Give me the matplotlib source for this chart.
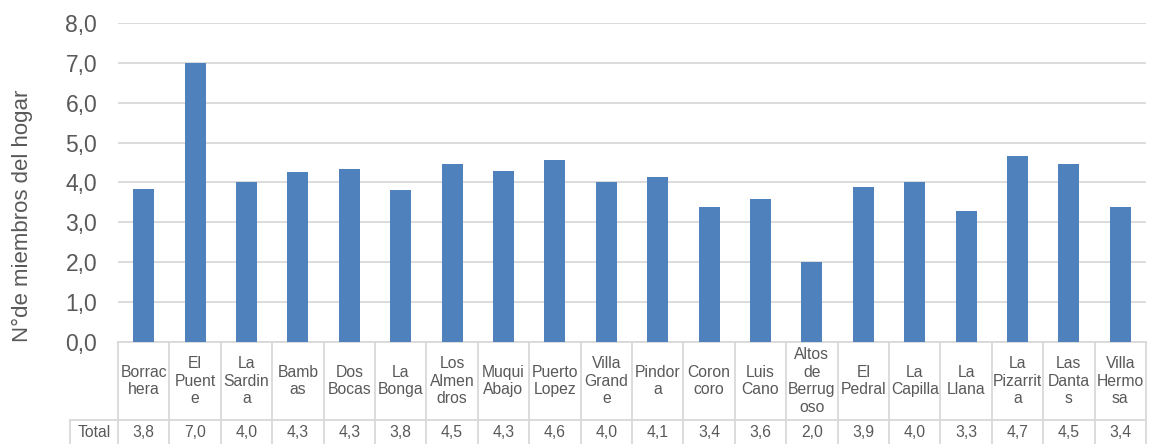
import matplotlib
matplotlib.use("Agg")
import matplotlib.pyplot as plt
from matplotlib.transforms import blended_transform_factory

plt.rcParams["font.family"] = ["Liberation Sans", "DejaVu Sans"]

# Household size per locality (column labels wrapped as in the data table)
categories = [
    "Borrac\nhera", "El\nPuent\ne", "La\nSardin\na", "Bamb\nas", "Dos\nBocas",
    "La\nBonga", "Los\nAlmen\ndros", "Muqui\nAbajo", "Puerto\nLopez",
    "Villa\nGrand\ne", "Pindor\na", "Coron\ncoro", "Luis\nCano",
    "Altos\nde\nBerrug\noso", "El\nPedral", "La\nCapilla", "La\nLlana",
    "La\nPizarrit\na", "Las\nDanta\ns", "Villa\nHermo\nsa",
]
values = [3.83, 7.00, 4.01, 4.26, 4.34, 3.81, 4.46, 4.29, 4.56, 4.00,
          4.14, 3.38, 3.58, 2.00, 3.88, 4.00, 3.28, 4.66, 4.46, 3.38]
row_label = "Total"
y_ticks = [0, 1, 2, 3, 4, 5, 6, 7, 8]
y_label = "N°de miembros del hogar"

BAR = "#4f81bd"
GRID = "#d9d9d9"
TXT = "#595959"

W, H = 1164, 444
fig = plt.figure(figsize=(W / 100, H / 100), dpi=100)
ax = fig.add_axes([118 / W, 102 / H, 1028 / W, 319 / H])

x = list(range(len(values)))
ax.bar(x, values, width=0.41, color=BAR, zorder=3)

ax.set_xlim(-0.5, len(values) - 0.5)
ax.set_ylim(0, 8)
ax.set_yticks(y_ticks)
ax.set_yticklabels([f"{v:.1f}".replace(".", ",") for v in y_ticks],
                   fontsize=16.5, color=TXT)
ax.tick_params(axis="y", length=0, pad=15)
ax.set_xticks([])
ax.grid(axis="y", color=GRID, linewidth=1.3, zorder=0)
for s in ax.spines.values():
    s.set_visible(False)

fig.text(22 / W, 0.513, y_label, rotation=90, ha="center", va="center",
         fontsize=16, color=TXT)

# Data table under the plot: x in data units, y in figure fraction
tr = blended_transform_factory(ax.transData, fig.transFigure)
y_top = 102 / H
y_mid = 24 / H
y_bot = -0.05
x_left_total = -0.5 - 48 / (1028 / len(values))
lw = 1.3

for i in range(len(values) + 1):
    ax.plot([i - 0.5, i - 0.5], [y_top, y_bot], transform=tr, color=GRID,
            lw=lw, clip_on=False, zorder=1)
ax.plot([x_left_total, len(values) - 0.5], [y_mid, y_mid], transform=tr,
        color=GRID, lw=lw, clip_on=False)
ax.plot([-0.5, len(values) - 0.5], [y_top, y_top], transform=tr,
        color=GRID, lw=lw, clip_on=False)
ax.plot([x_left_total, x_left_total], [y_mid, y_bot], transform=tr,
        color=GRID, lw=lw, clip_on=False)

for i, (c, v) in enumerate(zip(categories, values)):
    ax.text(i, 63 / H, c, transform=tr, ha="center", va="center",
            fontsize=11.3, color=TXT, linespacing=1.2, clip_on=False)
    ax.text(i, 12 / H, f"{v:.1f}".replace(".", ","), transform=tr,
            ha="center", va="center", fontsize=11.3, color=TXT, clip_on=False)
ax.text((x_left_total - 0.5) / 2, 12 / H, row_label, transform=tr,
        ha="center", va="center", fontsize=11.3, color=TXT, clip_on=False)

fig.savefig("out.png", dpi=100)
